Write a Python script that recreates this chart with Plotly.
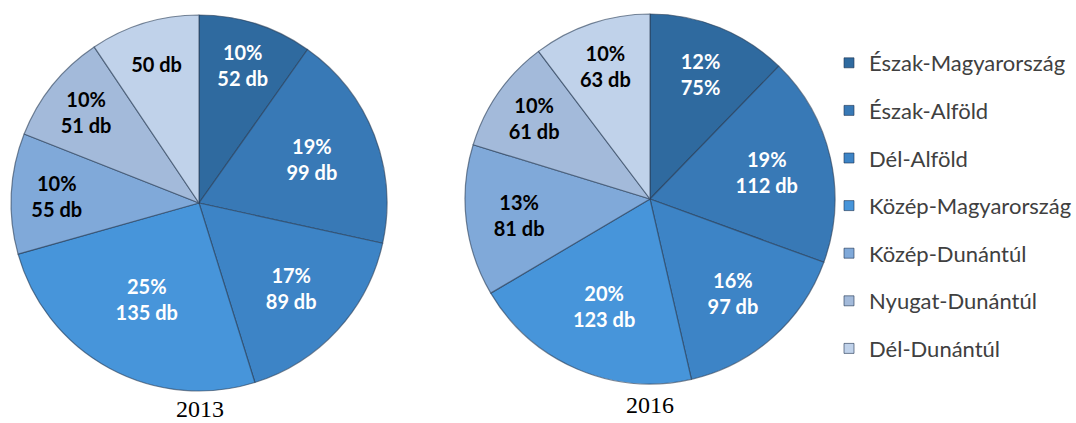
import plotly.graph_objects as go

regions = ["Észak-Magyarország", "Észak-Alföld", "Dél-Alföld", "Közép-Magyarország",
           "Közép-Dunántúl", "Nyugat-Dunántúl", "Dél-Dunántúl"]
values_2013 = [52, 99, 89, 135, 55, 51, 50]
values_2016 = [75, 112, 97, 123, 81, 61, 63]
labels_2013 = ["10%<br>52 db", "19%<br>99 db", "17%<br>89 db", "25%<br>135 db",
               "10%<br>55 db", "10%<br>51 db", "50 db"]
labels_2016 = ["12%<br>75%", "19%<br>112 db", "16%<br>97 db", "20%<br>123 db",
               "13%<br>81 db", "10%<br>61 db", "10%<br>63 db"]
colors = ["#2F6A9F", "#3879B6", "#3D84C6", "#4795DA", "#80A9D9", "#A3BADA", "#C0D2EA"]
text_colors = ["white", "white", "white", "white", "black", "black", "black"]
years = ["2013", "2016"]

FONT = "Lato"
W, H = 1076, 423

def px(X):
    return X / W

def py(Y):
    return 1 - Y / H

fig = go.Figure()

def add_pie(vals, txt, x0, x1, y0, y1):
    fig.add_trace(go.Pie(
        labels=regions, values=vals, text=txt, textinfo="text",
        textposition="inside", insidetextorientation="horizontal",
        sort=False, direction="clockwise", rotation=0,
        marker=dict(colors=colors, line=dict(color="rgba(40,60,85,0.6)", width=1.2)),
        textfont=dict(family=FONT, size=20, color=text_colors, weight="bold"),
        domain=dict(x=[px(x0), px(x1)], y=[py(y1), py(y0)]),
        showlegend=False, hoverinfo="label+value",
    ))

add_pie(values_2013, labels_2013, 10, 388, 15, 391)
add_pie(values_2016, labels_2016, 465, 835, 14, 384)

for r, c in zip(regions, colors):
    fig.add_trace(go.Scatter(
        x=[None], y=[None], mode="markers", name=r, legendgroup=r,
        marker=dict(symbol="square", size=10, color=c,
                    line=dict(color="rgba(30,50,80,0.6)", width=1)),
        showlegend=True,
    ))

fig.add_annotation(text=years[0], x=px(200), y=0, xref="paper", yref="paper",
                   xanchor="center", yanchor="bottom", showarrow=False, borderpad=0,
                   font=dict(family="Liberation Serif", size=24, color="black"))
fig.add_annotation(text=years[1], x=px(650), y=py(405), xref="paper", yref="paper",
                   xanchor="center", yanchor="middle", showarrow=False,
                   font=dict(family="Liberation Serif", size=24, color="black"))

fig.update_layout(
    width=W, height=H,
    margin=dict(l=0, r=0, t=0, b=0, autoexpand=False),
    paper_bgcolor="white", plot_bgcolor="white",
    xaxis=dict(visible=False), yaxis=dict(visible=False),
    uniformtext=dict(minsize=20, mode="show"),
    legend=dict(x=px(829), y=py(42), xanchor="left", yanchor="top",
                font=dict(family=FONT, size=22, color="#404040"),
                tracegroupgap=16, itemwidth=30, bgcolor="rgba(0,0,0,0)"),
)

fig.write_html("out.html", config={"displayModeBar": False},
               post_script="document.body.style.margin='0';")
